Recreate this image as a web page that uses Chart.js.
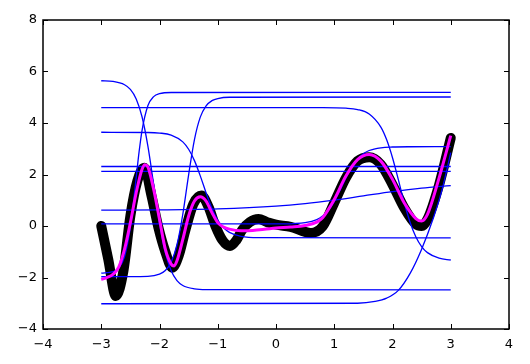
<!DOCTYPE html>
<html>
<head>
<meta charset="utf-8">
<script src="https://cdn.jsdelivr.net/npm/chart.js@4/dist/chart.umd.min.js"></script>
<style>
  html, body { margin: 0; padding: 0; background: #fff; }
</style>
</head>
<body>
<canvas id="fit_canvas" width="530" height="364"></canvas>
<script>
// tick values
const xTicks = [-4, -3, -2, -1, 0, 1, 2, 3, 4];
const yTicks = [-4, -2, 0, 2, 4, 6, 8];

// target samples (black dots)
const dataX = [-3, -2.88, -2.75, -2.62, -2.5, -2.38, -2.26, -2.14, -2.02, -1.9, -1.78, -1.67, -1.56, -1.42, -1.28, -1.16, -1.04, -0.92, -0.79, -0.68, -0.58, -0.45, -0.3, -0.15, 0, 0.25, 0.5, 0.6, 0.8, 1.0, 1.2, 1.4, 1.6, 1.8, 2.0, 2.2, 2.4, 2.5, 2.6, 2.8, 3.0];
const dataY = [0.0, -1.29, -2.72, -1.75, 0.39, 1.75, 2.26, 1.2, -0.05, -1.0, -1.62, -1.15, -0.2, 0.85, 1.18, 0.75, 0.0, -0.55, -0.78, -0.55, -0.15, 0.15, 0.27, 0.15, 0.05, -0.03, -0.23, -0.27, -0.02, 0.9, 1.87, 2.52, 2.67, 2.39, 1.61, 0.71, 0.07, 0.0, 0.26, 1.6, 3.42];

// network output (magenta)
const fitX = [-3, -2.9, -2.8, -2.7, -2.6, -2.5, -2.4, -2.3, -2.25, -2.2, -2.1, -2.0, -1.9, -1.8, -1.75, -1.7, -1.6, -1.5, -1.4, -1.3, -1.2, -1.1, -1.0, -0.9, -0.8, -0.6, -0.4, -0.2, 0, 0.25, 0.5, 0.7, 0.8, 1.0, 1.2, 1.4, 1.6, 1.8, 2.0, 2.2, 2.4, 2.5, 2.6, 2.8, 3.0];
const fitY = [-2.08, -2.0, -1.88, -1.6, -0.9, 0.13, 1.29, 2.2, 2.38, 2.3, 1.42, 0.26, -0.9, -1.48, -1.55, -1.35, -0.52, 0.39, 0.97, 1.14, 0.97, 0.52, 0.13, -0.04, -0.12, -0.18, -0.17, -0.13, -0.08, -0.04, 0.02, 0.15, 0.32, 1.03, 1.94, 2.58, 2.78, 2.52, 1.81, 0.9, 0.29, 0.19, 0.45, 1.87, 3.51];

// hidden units (blue)
const h1X = [-3, -2.8, -2.6, -2.5, -2.4, -2.3, -2.2, -2.1, -2.0, -1.9, -1.8, -1.7, -1.6, -1.4, -1.2, 3];
const h1Y = [5.64, 5.615, 5.486, 5.304, 4.935, 4.242, 3.112, 1.618, 0.114, -1.036, -1.742, -2.121, -2.311, -2.443, -2.472, -2.48];
const h2X = [-3, 0.8, 1.2, 1.4, 1.6, 1.8, 1.9, 2.0, 2.1, 2.2, 2.3, 2.4, 2.5, 2.6, 2.8, 3.0];
const h2Y = [4.6, 4.598, 4.576, 4.522, 4.348, 3.839, 3.346, 2.652, 1.803, 0.924, 0.158, -0.415, -0.797, -1.034, -1.251, -1.32];
const h3X = [-3, -2.2, -2.0, -1.8, -1.6, -1.5, -1.4, -1.3, -1.2, -1.1, -1.0, -0.9, -0.8, -0.6, -0.3, 3];
const h3Y = [3.64, 3.632, 3.61, 3.531, 3.267, 2.98, 2.539, 1.947, 1.285, 0.684, 0.229, -0.069, -0.246, -0.4, -0.451, -0.46];
const h4X = [-3, 3];
const h4Y = [2.31, 2.31];
const h5X = [-3, 3];
const h5Y = [2.12, 2.12];
const h6X = [-3, -2, -1, 0, 0.5, 1, 1.5, 2, 2.5, 3];
const h6Y = [0.616, 0.627, 0.664, 0.77, 0.87, 1.007, 1.17, 1.333, 1.47, 1.57];
const h7X = [-3, 0, 0.3, 0.5, 0.7, 0.8, 0.9, 1.0, 1.1, 1.2, 1.3, 1.4, 1.5, 1.6, 1.8, 2.0, 2.3, 3];
const h7Y = [0.08, 0.082, 0.094, 0.129, 0.249, 0.385, 0.61, 0.948, 1.389, 1.866, 2.289, 2.605, 2.809, 2.932, 3.037, 3.068, 3.078, 3.08];
const h8X = [-3, -2.8, -2.7, -2.6, -2.5, -2.45, -2.4, -2.35, -2.3, -2.2, -2.1, -2.0, -1.8, 3];
const h8Y = [-1.834, -1.775, -1.63, -1.187, -0.058, 0.847, 1.886, 2.888, 3.708, 4.667, 5.024, 5.139, 5.185, 5.19];
const h9X = [-3, -2.2, -2.0, -1.9, -1.8, -1.7, -1.6, -1.5, -1.4, -1.3, -1.2, -1.1, -1.0, -0.8, 3];
const h9Y = [-1.97, -1.953, -1.869, -1.73, -1.405, -0.728, 0.456, 1.988, 3.356, 4.227, 4.669, 4.867, 4.951, 5.0, 5.01];
const h10X = [-3, 1.4, 1.7, 1.9, 2.1, 2.3, 2.5, 2.7, 2.85, 3.0];
const h10Y = [-3.02, -3.0, -2.93, -2.8, -2.5, -1.85, -0.9, 0.3, 1.4, 2.85];

function pts(xs, ys) {
    return xs.map((x, i) => ({ x: x, y: ys[i] }));
}

const hidden = [[h1X, h1Y], [h2X, h2Y], [h3X, h3Y], [h4X, h4Y], [h5X, h5Y],
                [h6X, h6Y], [h7X, h7Y], [h8X, h8Y], [h9X, h9Y], [h10X, h10Y]];

const datasets = [];
datasets.push({
    label: 'data',
    data: pts(dataX, dataY),
    borderColor: '#000',
    borderWidth: 10,
    borderCapStyle: 'round',
    borderJoinStyle: 'round',
    cubicInterpolationMode: 'monotone',
    pointRadius: 0,
    order: 3
});
hidden.forEach((h, i) => {
    datasets.push({
        label: 'h' + (i + 1),
        data: pts(h[0], h[1]),
        borderColor: '#0000ff',
        borderWidth: 1.3,
        cubicInterpolationMode: 'monotone',
        pointRadius: 0,
        order: 2
    });
});
datasets.push({
    label: 'fit',
    data: pts(fitX, fitY),
    borderColor: '#ff00ff',
    borderWidth: 3,
    cubicInterpolationMode: 'monotone',
    pointRadius: 0,
    order: 1
});

// frame + inward ticks on all four sides, like matplotlib classic
const frameTicks = {
    id: 'frameTicks',
    afterDraw(chart) {
        const { ctx, chartArea: { top, bottom, left, right }, scales: { x, y } } = chart;
        ctx.save();
        ctx.strokeStyle = '#000';
        ctx.lineWidth = 1;
        ctx.beginPath();
        xTicks.forEach(v => {
            const px = Math.round(x.getPixelForValue(v)) + 0.5;
            ctx.moveTo(px, bottom); ctx.lineTo(px, bottom - 5);
            ctx.moveTo(px, top); ctx.lineTo(px, top + 5);
        });
        yTicks.forEach(v => {
            const py = Math.round(y.getPixelForValue(v)) + 0.5;
            ctx.moveTo(left, py); ctx.lineTo(left + 5, py);
            ctx.moveTo(right, py); ctx.lineTo(right - 5, py);
        });
        ctx.stroke();
        ctx.lineWidth = 1.5;
        ctx.strokeRect(left, top, right - left, bottom - top);
        ctx.restore();
    }
};

const minus = v => (v < 0 ? '\u2212' + Math.abs(v) : '' + v);
const tickFont = { family: 'DejaVu Sans', size: 13 };

new Chart(document.getElementById('fit_canvas'), {
    type: 'line',
    data: { datasets: datasets },
    options: {
        responsive: false,
        animation: false,
        layout: { padding: { top: 20, right: 21, left: 0, bottom: 0 } },
        plugins: { legend: { display: false }, tooltip: { enabled: false } },
        scales: {
            x: {
                type: 'linear', min: -4, max: 4,
                grid: { display: false, drawTicks: false },
                border: { display: false },
                ticks: { stepSize: 1, color: '#000', font: tickFont, padding: 8, callback: minus },
                afterFit(scale) { scale.height = 35; }
            },
            y: {
                type: 'linear', min: -4, max: 8,
                grid: { display: false, drawTicks: false },
                border: { display: false },
                ticks: { stepSize: 2, color: '#000', font: tickFont, padding: 6, callback: minus },
                afterFit(scale) { scale.width = 43; }
            }
        }
    },
    plugins: [frameTicks]
});
</script>
</body>
</html>
